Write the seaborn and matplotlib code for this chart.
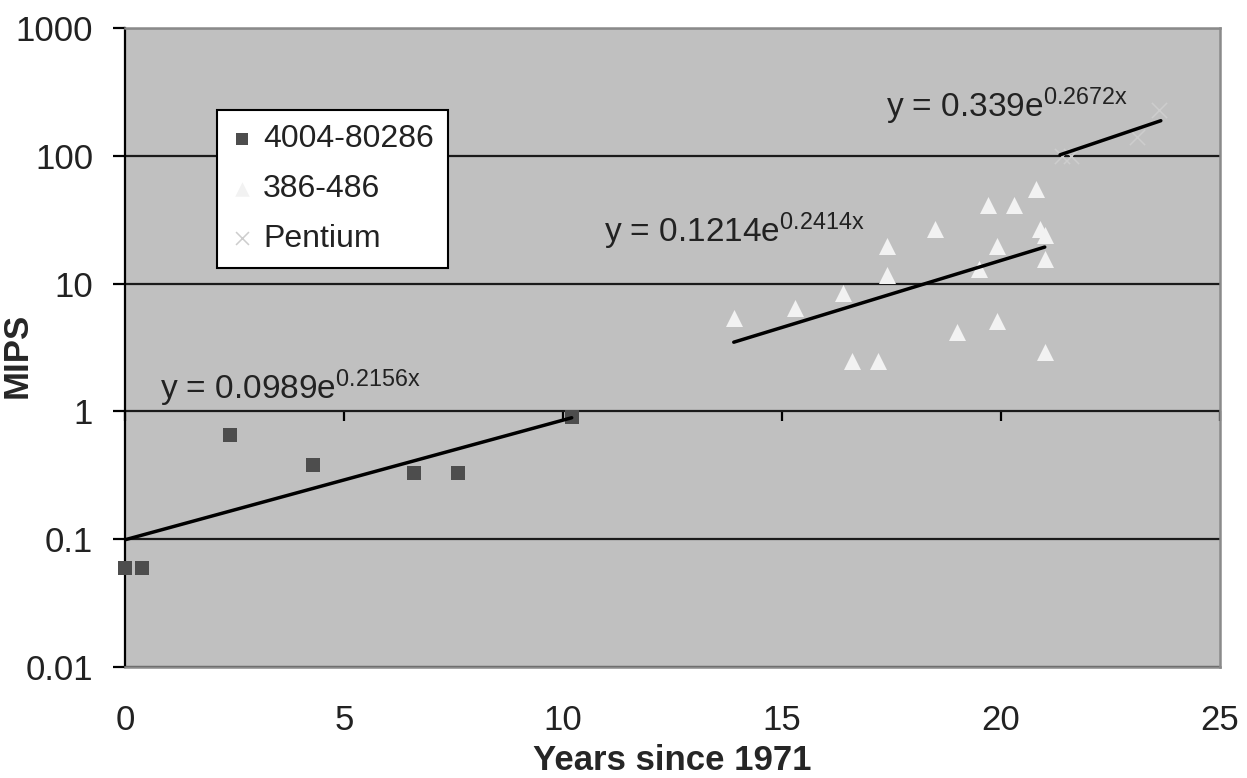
import numpy as np
import pandas as pd
import matplotlib
matplotlib.use("Agg")
import matplotlib.pyplot as plt
from matplotlib.ticker import NullLocator
import seaborn as sns

# data
series_names = ["4004-80286", "386-486", "Pentium"]

years_early = [0.0, 0.4, 2.4, 4.3, 6.6, 7.6, 10.2]
mips_early = [0.06, 0.06, 0.65, 0.38, 0.33, 0.33, 0.9]

years_mid = [13.9, 15.3, 16.4, 16.6, 17.2, 17.4, 17.4, 18.5, 19.0, 19.5,
             19.7, 19.9, 19.9, 20.3, 20.8, 20.9, 21.0, 21.0, 21.0]
mips_mid = [5.4, 6.5, 8.5, 2.5, 2.5, 11.6, 19.6, 26.6, 4.2, 13.0,
            41.0, 19.6, 5.1, 41.0, 55.0, 26.6, 24.0, 15.5, 2.9]

years_pent = [21.4, 21.6, 23.1, 23.6]
mips_pent = [100.0, 100.0, 140.0, 230.0]

# exponential trendlines y = a * exp(b * x), as printed on the chart
trend_a = [0.0989, 0.1214, 0.339]
trend_b = [0.2156, 0.2414, 0.2672]
trend_start = [0.0, 13.9, 21.35]
trend_end = [10.2, 21.0, 23.65]
trend_labels = ["y = 0.0989e$^{0.2156x}$", "y = 0.1214e$^{0.2414x}$", "y = 0.339e$^{0.2672x}$"]
label_x = [0.8, 10.93, 17.37]
label_y = [1.24, 21.0, 200.0]

x_ticks = [0, 5, 10, 15, 20, 25]
y_ticks = [0.01, 0.1, 1, 10, 100, 1000]
y_tick_labels = ["0.01", "0.1", "1", "10", "100", "1000"]

marker_colors = ["#4d4d4d", "#f2f2f2", "#cdcdcd"]
marker_shapes = ["s", "^", "x"]
marker_sizes = [110, 150, 120]

sns.set_theme(style="white")
plt.rcParams["font.family"] = ["Liberation Sans", "DejaVu Sans"]
plt.rcParams["mathtext.default"] = "regular"

fig, ax = plt.subplots(figsize=(12.47, 7.78), dpi=100)
fig.subplots_adjust(left=0.1002, right=0.9783, top=0.964, bottom=0.1427)
ax.set_facecolor("#c0c0c0")
ax.set_yscale("log")

groups = [(years_early, mips_early), (years_mid, mips_mid), (years_pent, mips_pent)]
for i, (xs, ys) in enumerate(groups):
    df = pd.DataFrame({"years": xs, "mips": ys})
    kw = dict(linewidth=0) if marker_shapes[i] != "x" else dict(linewidth=1.1)
    sns.scatterplot(data=df, x="years", y="mips", color=marker_colors[i],
                    marker=marker_shapes[i], s=marker_sizes[i], label=series_names[i],
                    ax=ax, zorder=3, clip_on=False, **kw)

for i in range(3):
    tx = np.linspace(trend_start[i], trend_end[i], 60)
    ty = trend_a[i] * np.exp(trend_b[i] * tx)
    ax.plot(tx, ty, color="black", lw=2.5, zorder=4)
    ax.text(label_x[i], label_y[i], trend_labels[i], fontsize=24, color="#222222",
            ha="left", va="baseline", zorder=5)

ax.set_xlim(0, 25)
ax.set_ylim(0.01, 1000)
ax.set_xticks(x_ticks)
ax.set_xticklabels([str(t) for t in x_ticks])
ax.set_yticks(y_ticks)
ax.set_yticklabels(y_tick_labels)
ax.yaxis.set_minor_locator(NullLocator())
ax.xaxis.set_minor_locator(NullLocator())

ax.set_axisbelow(True)
ax.grid(axis="y", which="major", color="#1a1a1a", lw=1.6)
ax.grid(axis="x", visible=False)

for side in ["top", "right", "bottom"]:
    ax.spines[side].set_color("#8a8a8a")
    ax.spines[side].set_linewidth(1.8)
ax.spines["left"].set_color("black")
ax.spines["left"].set_linewidth(1.6)

ax.tick_params(axis="y", direction="out", length=9, width=1.6, color="black",
               labelsize=25, pad=14, labelcolor="#222222", left=True)
ax.tick_params(axis="x", length=0, labelsize=25, pad=27, labelcolor="#222222")

# category axis crosses the value axis at 1, as in the original
sec = ax.secondary_xaxis(0.4)
sec.set_xticks(x_ticks)
sec.tick_params(axis="x", direction="out", length=7, width=1.6, color="black",
                labelbottom=False, labeltop=False, bottom=True)
for sp in sec.spines.values():
    sp.set_visible(False)

ax.set_xlabel("Years since 1971", fontsize=25, fontweight="bold", labelpad=5)
ax.set_ylabel("MIPS", fontsize=25, fontweight="bold")
ax.yaxis.set_label_coords(-0.083, 0.488)

leg = ax.legend(loc="upper left", bbox_to_anchor=(0.084, 0.872), fontsize=23,
                frameon=True, fancybox=False, edgecolor="black", facecolor="white",
                framealpha=1, borderpad=0.45, labelspacing=0.62, handlelength=0.7,
                handletextpad=0.3, markerscale=0.85, borderaxespad=0)
leg.get_frame().set_linewidth(1.5)
for t in leg.get_texts():
    t.set_color("#222222")

fig.savefig("out.png", dpi=100, facecolor="white")
